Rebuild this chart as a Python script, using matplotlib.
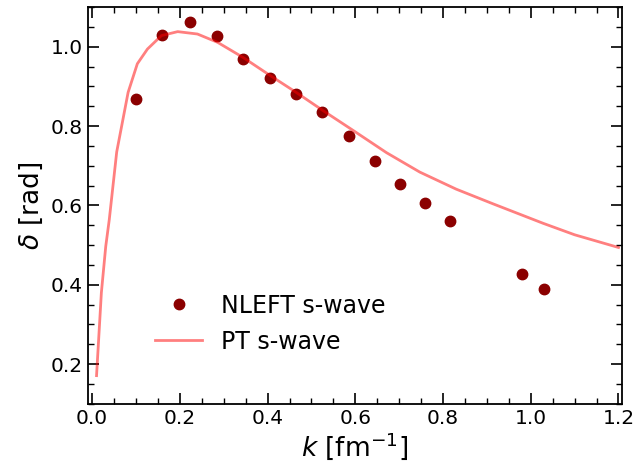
import matplotlib
matplotlib.use("Agg")
import matplotlib.pyplot as plt
from matplotlib.ticker import MultipleLocator

# NLEFT s-wave phase shifts
k_nleft = [0.099, 0.159, 0.222, 0.284, 0.345, 0.405, 0.465, 0.525, 0.585,
           0.644, 0.702, 0.759, 0.815, 0.979, 1.030]
delta_nleft = [0.868, 1.029, 1.062, 1.028, 0.970, 0.920, 0.880, 0.835, 0.776,
               0.712, 0.654, 0.605, 0.560, 0.427, 0.390]

# PT s-wave curve
k_pt = [0.010, 0.021, 0.031, 0.039, 0.056, 0.082, 0.103, 0.126, 0.158, 0.195,
        0.240, 0.286, 0.344, 0.405, 0.465, 0.525, 0.595, 0.671, 0.747, 0.830,
        0.914, 1.028, 1.100, 1.200]
delta_pt = [0.171, 0.380, 0.497, 0.564, 0.735, 0.885, 0.957, 0.994, 1.028, 1.038,
            1.032, 1.011, 0.973, 0.928, 0.885, 0.840, 0.789, 0.733, 0.684, 0.641,
            0.604, 0.555, 0.526, 0.494]

fig = plt.figure(figsize=(6.36, 4.69), dpi=100)
ax = fig.add_axes([0.138, 0.139, 0.840, 0.846])

ax.plot(k_nleft, delta_nleft, 'o', color='darkred', ms=7.5, label='NLEFT s-wave')
ax.plot(k_pt, delta_pt, '-', color='red', alpha=0.5, lw=2, label='PT s-wave')

ax.set_xlim(-0.01, 1.208)
ax.set_ylim(0.1, 1.1)
ax.xaxis.set_major_locator(MultipleLocator(0.2))
ax.xaxis.set_minor_locator(MultipleLocator(0.05))
ax.yaxis.set_major_locator(MultipleLocator(0.2))
ax.yaxis.set_minor_locator(MultipleLocator(0.05))
ax.tick_params(which='both', direction='in', top=True, right=True, labelsize=14.5)
ax.tick_params(which='major', length=8, width=1.2)
ax.tick_params(which='minor', length=4, width=1.0)
for s in ax.spines.values():
    s.set_linewidth(1.3)

ax.set_xlabel(r'$k$ [fm$^{-1}$]', fontsize=19, labelpad=2)
ax.set_ylabel(r'$\delta$ [rad]', fontsize=19)

ax.legend(loc='center left', bbox_to_anchor=(0.108, 0.202), borderaxespad=0,
          frameon=False, fontsize=17)

fig.savefig('out.png', dpi=100)
